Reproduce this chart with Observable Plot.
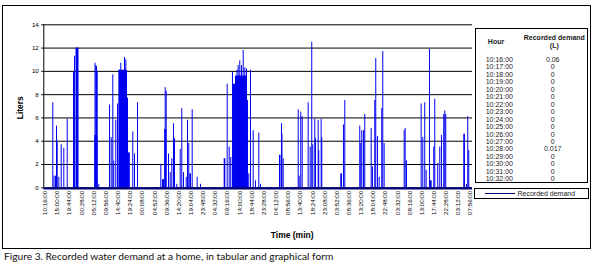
<!DOCTYPE html>
<html>
<head>
<meta charset="utf-8">
<script src="https://cdn.jsdelivr.net/npm/d3@7"></script>
<script src="https://cdn.jsdelivr.net/npm/@observablehq/plot@0.6"></script>
<style>
  html, body { margin: 0; padding: 0; background: #fff; }
  #wrap { position: relative; width: 596px; height: 276px; overflow: hidden; font-family: "Liberation Sans", Arial, sans-serif; }
  #frame { position: absolute; left: 2px; top: 5px; width: 589px; height: 244px; box-sizing: border-box; border: 1px solid #000; }
  #chart { position: absolute; left: 0; top: 0; }
  #table { position: absolute; left: 475px; top: 28px; width: 113px; height: 155px; box-sizing: border-box; border: 1px solid #000; background: #fff; }
  #legend { position: absolute; left: 474px; top: 188px; width: 115px; height: 11px; box-sizing: border-box; border: 1px solid #000; background: #fff; }
  .cell { position: absolute; transform: translate(-50%, -50%); font-size: 7px; line-height: 1; white-space: nowrap; color: #1a1a1a; }
  .hdr { font-weight: bold; }
  #caption { position: absolute; left: 4px; top: 250px; font-family: Lato, "Open Sans", sans-serif; font-size: 10.2px; color: #111; white-space: nowrap; }
</style>
</head>
<body>
<div id="wrap">
  <div id="frame"></div>
  <div id="chart"></div>
  <div id="table"></div>
  <div id="legend"></div>
  <div id="caption">Figure 3. Recorded water demand at a home, in tabular and graphical form</div>
</div>
<script>
// ---- data (minutes after the first reading at 10:16:00, litres) ----
const tickLabels = ["10:16:00","15:00:00","19:44:00","00:28:00","05:12:00","09:56:00","14:40:00","19:24:00",
  "00:08:00","04:52:00","09:36:00","14:20:00","19:04:00","23:48:00","04:32:00","09:16:00","14:00:00","18:44:00",
  "23:28:00","04:12:00","08:56:00","13:40:00","18:24:00","23:08:00","03:52:00","08:36:00","13:20:00","18:04:00",
  "22:48:00","03:32:00","08:16:00","13:00:00","17:44:00","22:28:00","03:12:00","07:56:00"];

const spikeMinute = [178,206,241,264,280,318,374,435,514,661,685,1164,1183,1199,1215,1253,1503,1542,1580,1603,
  1650,1690,1729,1767,1853,1884,2047,2087,2157,2702,2741,2765,2804,2828,2882,2921,2959,2998,3022,3075,3155,3192,
  3232,3295,3326,3356,3435,3552,3629,4253,4300,4337,4377,4482,4510,4548,4588,4627,4665,4704,4758,4798,4861,4915,
  4992,5032,5522,5534,5562,5913,5936,5973,6006,6146,6193,6230,6254,6301,6317,6380,6394,6450,6464,6971,7002,7352,
  7376,7399,7439,7469,7619,7649,7703,7726,7766,7806,7866,7890,7922,8390,8413,8444,8787,8825,8871,8904,8981,9082,
  9105,9175,9222,9262,9315,9339,9362,9846,9876,9899];
const spikeLiters = [7.3,1.0,1.0,5.3,4.0,0.9,3.7,3.4,5.9,9.9,11.3,10.7,10.5,10.4,10.0,0.3,7.1,4.3,9.7,2.3,
  5.8,7.2,10.1,10.7,11.2,11.0,4.8,2.9,7.3,2.0,0.7,0.7,8.6,8.3,2.9,1.3,2.5,5.5,4.2,0.3,3.3,6.8,
  1.3,0.9,5.8,3.8,6.7,0.9,0.3,8.9,3.5,2.6,9.9,10.1,10.5,10.9,10.5,11.8,10.3,10.2,1.2,10.1,4.9,0.6,
  4.7,0.3,5.5,4.6,2.5,6.7,1.0,6.5,6.1,7.3,3.5,12.5,3.7,5.9,4.2,5.8,3.2,5.9,4.3,5.4,7.5,5.3,
  3.8,4.9,4.9,6.3,5.1,1.8,7.5,11.1,4.4,0.9,6.8,11.7,3.8,4.9,5.1,2.3,7.2,4.3,7.3,1.5,11.9,3.5,
  7.6,2.1,3.5,4.5,6.3,6.6,6.3,0.3,6.1,3.2];

// sustained-use periods (dense runs of per-minute readings)
const blockFrom   = [720,1157,1725,1923,1947,2793,3379,4183,4389,4447,4716,5476,6908,9005,9783];
const blockTo     = [790,1232,1923,1947,1989,2839,3419,4221,4447,4716,4751,5511,6948,9044,9822];
const blockLiters = [12.0,4.5,10.1,7.7,3.0,5.0,1.2,2.5,8.9,9.6,7.5,2.8,1.2,0.6,4.6];

const yTicks = [0,2,4,6,8,10,12,14];

const tableHours  = ["10:16:00","10:17:00","10:18:00","10:19:00","10:20:00","10:21:00","10:22:00","10:23:00","10:24:00",
  "10:25:00","10:26:00","10:27:00","10:28:00","10:29:00","10:30:00","10:31:00","10:32:00"];
const tableDemand = ["0.06","0","0","0","0","0","0","0","0","0","0","0","0.017","0","0","0","0"];

// ---- derived tables ----
const toMin = s => { const [h,m] = s.split(":").map(Number); return h*60+m; };
const tickMinutes = [];
tickLabels.forEach((s,i) => {
  if (i === 0) tickMinutes.push(0);
  else tickMinutes.push(tickMinutes[i-1] + ((toMin(s) - toMin(tickLabels[i-1]) + 1440) % 1440));
});
const labelOf = new Map(tickMinutes.map((m,i) => [m, tickLabels[i]]));
const spikes = spikeMinute.map((m,i) => ({minute: m, liters: spikeLiters[i]}));
const blocks = blockFrom.map((f,i) => ({from: f, to: blockTo[i], liters: blockLiters[i]}));

const blue = "#0000f0";
const chart = Plot.plot({
  width: 596,
  height: 250,
  marginLeft: 43.3,
  marginRight: 124,
  marginTop: 24.3,
  marginBottom: 62.7,
  style: {fontFamily: "'Liberation Sans', Arial, sans-serif", fontSize: "6.2px", color: "#000", background: "transparent"},
  x: {type: "linear", domain: [-33, 9987], ticks: tickMinutes, tickFormat: d => labelOf.get(d), tickRotate: -90,
      tickSize: 0, tickPadding: 3, label: null},
  y: {domain: [0, 14], ticks: yTicks, tickSize: 2, tickPadding: 3, label: null},
  marks: [
    Plot.ruleY(yTicks, {stroke: "#000", strokeWidth: 1}),
    Plot.rectY(blocks, {x1: "from", x2: "to", y1: 0, y2: "liters", fill: blue}),
    Plot.ruleX(spikes, {x: "minute", y1: 0, y2: "liters", stroke: blue, strokeWidth: 1}),
    Plot.ruleY([0], {stroke: "#00007a", strokeWidth: 2.2, dy: 0.5}),
    Plot.ruleX([-33], {y1: 0, y2: 14, stroke: "#000", strokeWidth: 1}),
    Plot.text(["Liters"], {frameAnchor: "left", dx: -24, dy: 13, rotate: -90, fontWeight: "bold", fontSize: 8.5, fill: "#000"}),
    Plot.text(["Time (min)"], {frameAnchor: "bottom", dx: 34, dy: 50, fontWeight: "bold", fontSize: 8.5, fill: "#000"})
  ]
});
document.getElementById("chart").appendChild(chart);

// ---- table (positions relative to the table box) ----
const table = document.getElementById("table");
const tx = 475, ty = 28;
function cell(text, cx, cy, cls) {
  const d = document.createElement("div");
  d.className = "cell" + (cls ? " " + cls : "");
  d.style.left = (cx - tx) + "px";
  d.style.top = (cy - ty) + "px";
  d.textContent = text;
  table.appendChild(d);
}
cell("Hour", 495, 39.5, "hdr");
cell("Recorded demand", 553.3, 35.8, "hdr");
cell("(L)", 553.3, 43.8, "hdr");
tableHours.forEach((h, i) => {
  const cy = 57.8 + 7.47 * i;
  cell(h, 498.3, cy);
  cell(tableDemand[i], 551.7, cy);
});

// ---- legend ----
const legend = document.getElementById("legend");
const line = document.createElement("div");
line.style.cssText = "position:absolute;left:10px;top:4px;width:30px;height:1px;background:#00007a;";
legend.appendChild(line);
const lt = document.createElement("div");
lt.style.cssText = "position:absolute;left:42.5px;top:0.5px;font-size:7px;line-height:8px;white-space:nowrap;color:#1a1a1a;";
lt.textContent = "Recorded demand";
legend.appendChild(lt);
</script>
</body>
</html>
